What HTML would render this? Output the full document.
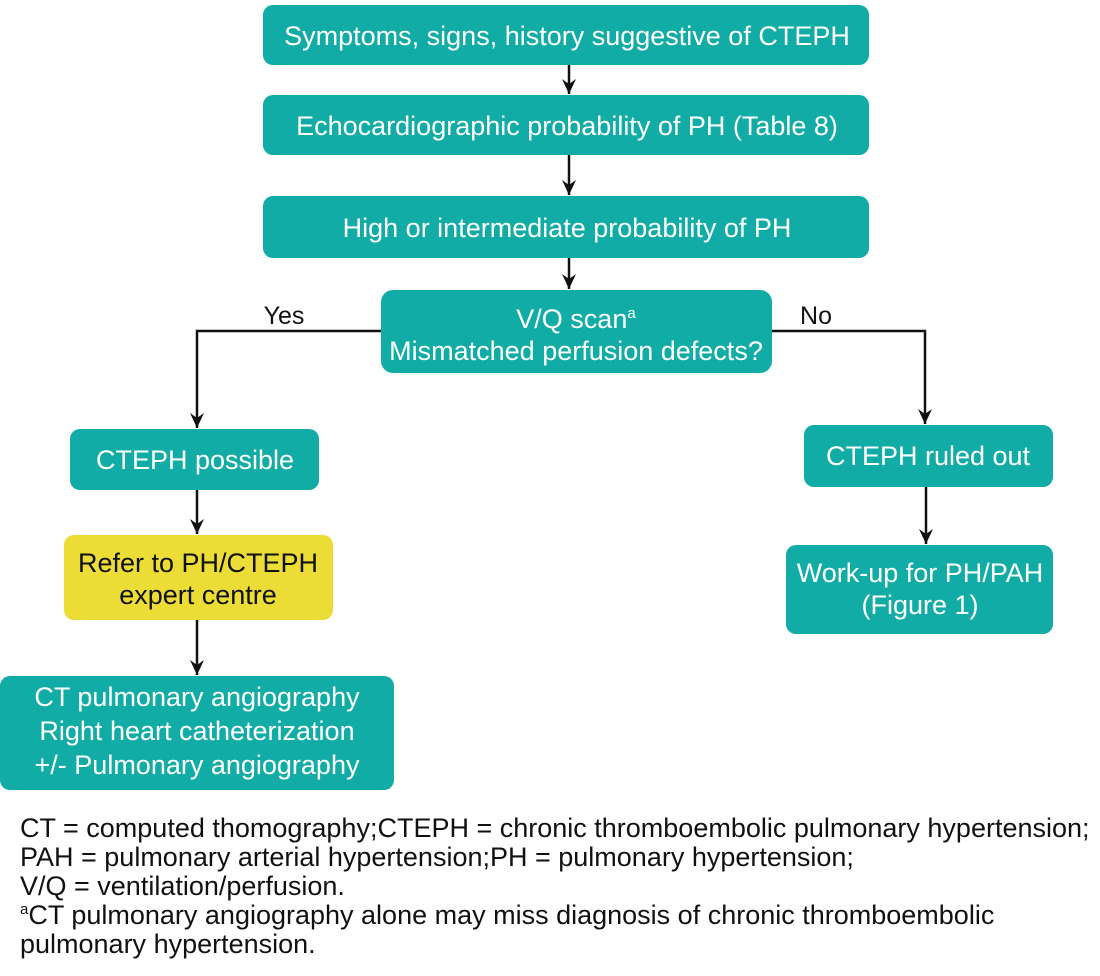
<!DOCTYPE html>
<html><head><meta charset="utf-8"><style>
body{margin:0;background:#fff;}
svg text{font-family:"Liberation Sans",Arial,sans-serif;}
</style></head><body>
<svg width="1100" height="971" viewBox="0 0 1100 971" xmlns="http://www.w3.org/2000/svg">
<defs>
<marker id="a" markerWidth="16" markerHeight="14" refX="15" refY="7" orient="auto" markerUnits="userSpaceOnUse" viewBox="0 0 16 14">
<path d="M0,0 L15,7 L0,14 L5,7 Z" fill="#111"/>
</marker>
</defs>
<g fill="#12aca6">
<rect x="263" y="5" width="606" height="60" rx="10"/>
<rect x="263" y="95" width="606" height="60" rx="10"/>
<rect x="263" y="196" width="606" height="62" rx="10"/>
<rect x="381" y="290" width="391" height="83" rx="12"/>
<rect x="70" y="429" width="249" height="61" rx="10"/>
<rect x="804" y="425" width="249" height="62" rx="10"/>
<rect x="786" y="545" width="267" height="89" rx="10"/>
<rect x="0" y="676" width="394" height="114" rx="10"/>
</g>
<rect x="64" y="535" width="269" height="85" rx="10" fill="#ecdd36"/>
<g stroke="#111" stroke-width="2.5" fill="none">
<path d="M569 65 V94" marker-end="url(#a)"/>
<path d="M569 155 V195" marker-end="url(#a)"/>
<path d="M569 258 V289" marker-end="url(#a)"/>
<path d="M381 331 H197 V428" marker-end="url(#a)"/>
<path d="M772 331 H925 V424" marker-end="url(#a)"/>
<path d="M197 490 V534" marker-end="url(#a)"/>
<path d="M197 620 V675" marker-end="url(#a)"/>
<path d="M926 487 V544" marker-end="url(#a)"/>
</g>
<g fill="#fff" font-size="27" text-anchor="middle">
<text x="567" y="45">Symptoms, signs, history suggestive of CTEPH</text>
<text x="567" y="135">Echocardiographic probability of PH (Table 8)</text>
<text x="567" y="237">High or intermediate probability of PH</text>
<text x="576" y="328">V/Q scan<tspan font-size="15" dy="-10">a</tspan></text>
<text x="576" y="360">Mismatched perfusion defects?</text>
<text x="195" y="469">CTEPH possible</text>
<text x="928" y="465">CTEPH ruled out</text>
<text x="920" y="582">Work-up for PH/PAH</text>
<text x="920" y="614">(Figure 1)</text>
<text x="197" y="706">CT pulmonary angiography</text>
<text x="197" y="740">Right heart catheterization</text>
<text x="197" y="774">+/- Pulmonary angiography</text>
</g>
<g fill="#111" font-size="27" text-anchor="middle">
<text x="198" y="572">Refer to PH/CTEPH</text>
<text x="198" y="604">expert centre</text>
<text x="284" y="324" font-size="25">Yes</text>
<text x="816" y="324" font-size="25">No</text>
</g>
<g fill="#111" font-size="27">
<text x="20" y="837">CT = computed thomography;CTEPH = chronic thromboembolic pulmonary hypertension;</text>
<text x="20" y="866">PAH = pulmonary arterial hypertension;PH = pulmonary hypertension;</text>
<text x="20" y="895">V/Q = ventilation/perfusion.</text>
<text x="20" y="924"><tspan font-size="15" dy="-10">a</tspan><tspan dy="10">CT pulmonary angiography alone may miss diagnosis of chronic thromboembolic</tspan></text>
<text x="20" y="953">pulmonary hypertension.</text>
</g>
</svg>
</body></html>
